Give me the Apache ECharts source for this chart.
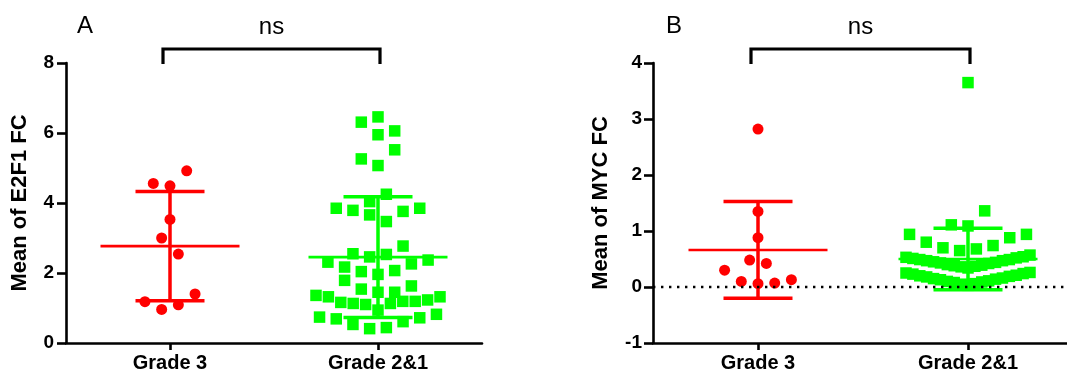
<!DOCTYPE html>
<html>
<head>
<meta charset="utf-8">
<script src="https://cdn.jsdelivr.net/npm/echarts@6/dist/echarts.min.js"></script>
<style>
  html, body { margin: 0; padding: 0; background: #ffffff; }
  #chart { width: 1067px; height: 379px; }
</style>
</head>
<body>
<div id="chart"></div>
<script>
// ---------------- data ----------------
const categories = ['Grade 3', 'Grade 2&1'];
const panelLetters = ['A', 'B'];
const yAxisNames = ['Mean of E2F1 FC', 'Mean of MYC FC'];
const significance = 'ns';

// Panel A: Mean of E2F1 FC (listed in data-entry order)
const e2f1Grade3 = [0.96, 1.09, 1.18, 1.40, 3.00, 2.54, 3.53, 4.49, 4.56, 4.92];
const e2f1Grade21 = [
  0.41, 0.44, 0.53, 0.61, 0.69, 0.72, 0.74, 0.82,
  0.94, 1.10, 1.13, 1.13, 1.19, 1.16, 1.19, 1.32, 1.23, 1.36, 1.32,
  1.45, 1.54, 1.45, 1.79, 1.63,
  1.96, 2.04, 2.07, 2.17, 2.26, 2.31, 2.37,
  2.46, 2.53, 2.55, 2.77,
  3.66, 3.47, 3.79, 3.76, 3.85, 3.85,
  4.04, 4.25,
  5.07, 5.26, 5.52,
  5.95, 6.31, 6.06,
  6.46
];

// Panel B: Mean of MYC FC
const mycGrade3 = [0.06, 0.10, 0.07, 0.30, 0.13, 0.48, 0.42, 0.88, 1.35, 2.82];
const mycGrade21 = [
  0.03, 0.05, 0.06, 0.08, 0.09, 0.10, 0.11, 0.13, 0.14, 0.15, 0.16, 0.18, 0.19, 0.20, 0.21, 0.23, 0.24, 0.25, 0.26,
  0.34, 0.36, 0.37, 0.38, 0.39, 0.40, 0.42, 0.43, 0.44, 0.45, 0.47, 0.47, 0.49, 0.49, 0.52, 0.51, 0.54, 0.53, 0.57,
  0.65, 0.68, 0.70, 0.74, 0.80, 0.88, 0.94, 0.94,
  1.09, 1.11, 1.36,
  3.65
];

// axis ranges [min, max, interval]
const yRangeA = [0, 8, 2];
const yRangeB = [-1, 4, 1];

// ---------------- layout / style ----------------
const FONT = '"Liberation Sans", Arial, Helvetica, sans-serif';
const RED = '#ff0000';
const GREEN = '#00ff00';
const gridA = { left: 66, top: 63, width: 416, height: 280 };
const gridB = { left: 653, top: 63, width: 414, height: 280 };
const xMaxA = 4;
const xMaxB = gridB.width / 105;   // category centres 105 px in from the left, 210 px apart
const catPos = [1, 3];

const BIN_PX = 17;      // vertical bin height for the scatter rows
const STEP_PX = 16.7;   // horizontal spacing of points in a row
const MAX_ROW_W = 124;  // widest a row may be

function meanSd(a) {
  const m = a.reduce((s, v) => s + v, 0) / a.length;
  const v = a.reduce((s, x) => s + (x - m) * (x - m), 0) / (a.length - 1);
  return [m, Math.sqrt(v)];
}

// Prism-like scatter-dot layout: rows binned by value, points spread centre-outward
function scatterDots(values, centre, pxPerUnitY, unitsPerPxX) {
  const thr = BIN_PX / pxPerUnitY;
  const order = values.map((v, i) => i).sort((a, b) => values[a] - values[b] || a - b);
  const bins = [];
  let cur = null, start = null;
  order.forEach(i => {
    if (cur === null || values[i] - start > thr + 1e-9) {
      cur = [i]; start = values[i]; bins.push(cur);
    } else cur.push(i);
  });
  const off = new Array(values.length).fill(0);
  bins.forEach(b => {
    b.sort((a, c) => a - c);
    const n = b.length;
    const step = n > 1 ? Math.min(STEP_PX, MAX_ROW_W / (n - 1)) : 0;
    b.forEach((i, j) => {
      let slot;
      if (n % 2 === 1) slot = j === 0 ? 0 : (j % 2 === 1 ? -Math.ceil(j / 2) : j / 2);
      else { const k = Math.floor(j / 2); slot = j % 2 === 0 ? -(k + 0.5) : (k + 0.5); }
      off[i] = slot * step;
    });
  });
  return values.map((v, i) => [centre + off[i] * unitsPerPxX, v]);
}

const pxA = gridA.height / (yRangeA[1] - yRangeA[0]);
const pxB = gridB.height / (yRangeB[1] - yRangeB[0]);
const uxA = xMaxA / gridA.width;
const uxB = xMaxB / gridB.width;

function errorBarSeries(xi, yi, x, arr, color) {
  const [m, sd] = meanSd(arr);
  return {
    type: 'custom', xAxisIndex: xi, yAxisIndex: yi, z: 4, silent: true,
    data: [[x, m, sd]],
    renderItem: function (params, api) {
      const xv = api.value(0), mv = api.value(1), sv = api.value(2);
      const c = api.coord([xv, mv]);
      const t = api.coord([xv, mv + sv]);
      const b = api.coord([xv, mv - sv]);
      const st = { stroke: color, lineWidth: 3.5 };
      return {
        type: 'group',
        children: [
          { type: 'line', shape: { x1: c[0] - 69.5, y1: c[1], x2: c[0] + 69.5, y2: c[1] }, style: { stroke: color, lineWidth: 2.6 } },
          { type: 'line', shape: { x1: t[0], y1: t[1], x2: b[0], y2: b[1] }, style: st },
          { type: 'line', shape: { x1: t[0] - 34.5, y1: t[1], x2: t[0] + 34.5, y2: t[1] }, style: st },
          { type: 'line', shape: { x1: b[0] - 34.5, y1: b[1], x2: b[0] + 34.5, y2: b[1] }, style: st }
        ]
      };
    }
  };
}

function bracketSeries(xi, yi, yTop) {
  return {
    type: 'custom', xAxisIndex: xi, yAxisIndex: yi, silent: true, clip: false,
    data: [[catPos[0], catPos[1], yTop]],
    renderItem: function (params, api) {
      const p1 = api.coord([api.value(0), api.value(2)]);
      const p2 = api.coord([api.value(1), api.value(2)]);
      const xl = p1[0] - 7, xr = p2[0] + 2;
      const yb = p1[1] - 14, yLeg = p1[1] + 1;
      const st = { stroke: '#000', lineWidth: 3.2, fill: null, lineJoin: 'miter' };
      return {
        type: 'group',
        children: [
          { type: 'polyline', shape: { points: [[xl, yLeg], [xl, yb], [xr, yb], [xr, yLeg]] }, style: st },
          { type: 'text', x: (xl + xr) / 2, y: yb - 22,
            style: { text: significance, fill: '#000', font: '24px ' + FONT, align: 'center', verticalAlign: 'middle' } }
        ]
      };
    }
  };
}

function xAxisCfg(gi, max) {
  return {
    type: 'value', gridIndex: gi, min: 0, max: max,
    axisLine: { show: true, onZero: false, lineStyle: { color: '#000', width: 2.6 } },
    axisTick: { show: true, length: 7, customValues: catPos, lineStyle: { color: '#000', width: 2.6 } },
    axisLabel: {
      customValues: catPos, margin: 10,
      formatter: v => categories[Math.round((v - 1) / 2)],
      color: '#000', fontSize: 20, fontWeight: 'bold', fontFamily: FONT
    },
    splitLine: { show: false }
  };
}

function yAxisCfg(gi, r, name, gap, labelMargin) {
  return {
    type: 'value', gridIndex: gi, min: r[0], max: r[1], interval: r[2],
    name: name, nameLocation: 'middle', nameGap: gap,
    nameTextStyle: { color: '#000', fontSize: 22, fontWeight: 'bold', fontFamily: FONT },
    axisLine: { show: true, onZero: false, lineStyle: { color: '#000', width: 2.6 } },
    axisTick: { show: true, length: 9, lineStyle: { color: '#000', width: 2.6 } },
    axisLabel: { margin: labelMargin, color: '#000', fontSize: 19, fontWeight: 'bold', fontFamily: FONT },
    splitLine: { show: false }
  };
}

const option = {
  animation: false,
  backgroundColor: '#ffffff',
  grid: [gridA, gridB],
  xAxis: [xAxisCfg(0, xMaxA), xAxisCfg(1, xMaxB)],
  yAxis: [yAxisCfg(0, yRangeA, yAxisNames[0], 35, 12), yAxisCfg(1, yRangeB, yAxisNames[1], 41, 11)],
  graphic: [
    { type: 'text', left: 77, top: 14, style: { text: panelLetters[0], fill: '#000', font: '24px ' + FONT } },
    { type: 'text', left: 666, top: 14, style: { text: panelLetters[1], fill: '#000', font: '24px ' + FONT } }
  ],
  series: [
    // zero reference line in panel B
    {
      type: 'line', xAxisIndex: 1, yAxisIndex: 1, data: [], z: 1, silent: true,
      markLine: {
        silent: true, symbol: 'none', label: { show: false },
        lineStyle: { color: '#000', width: 2.4, type: [2.4, 5.6], cap: 'butt' },
        data: [{ yAxis: 0 }]
      }
    },
    {
      type: 'scatter', xAxisIndex: 0, yAxisIndex: 0, z: 3, symbol: 'circle', symbolSize: 11,
      itemStyle: { color: RED, opacity: 1 },
      data: scatterDots(e2f1Grade3, catPos[0], pxA, uxA)
    },
    {
      type: 'scatter', xAxisIndex: 0, yAxisIndex: 0, z: 3, symbol: 'rect', symbolSize: 11.5,
      itemStyle: { color: GREEN, opacity: 1 },
      data: scatterDots(e2f1Grade21, catPos[1], pxA, uxA)
    },
    {
      type: 'scatter', xAxisIndex: 1, yAxisIndex: 1, z: 3, symbol: 'circle', symbolSize: 11,
      itemStyle: { color: RED, opacity: 1 },
      data: scatterDots(mycGrade3, catPos[0], pxB, uxB)
    },
    {
      type: 'scatter', xAxisIndex: 1, yAxisIndex: 1, z: 3, symbol: 'rect', symbolSize: 11.5,
      itemStyle: { color: GREEN, opacity: 1 },
      data: scatterDots(mycGrade21, catPos[1], pxB, uxB)
    },
    errorBarSeries(0, 0, catPos[0], e2f1Grade3, RED),
    errorBarSeries(0, 0, catPos[1], e2f1Grade21, GREEN),
    errorBarSeries(1, 1, catPos[0], mycGrade3, RED),
    errorBarSeries(1, 1, catPos[1], mycGrade21, GREEN),
    bracketSeries(0, 0, yRangeA[1]),
    bracketSeries(1, 1, yRangeB[1])
  ]
};

const chart = echarts.init(document.getElementById('chart'), null, { renderer: 'canvas' });
chart.setOption(option);
</script>
</body>
</html>
